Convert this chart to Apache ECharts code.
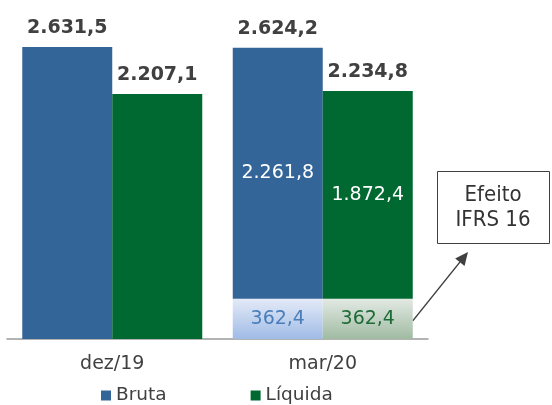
<!DOCTYPE html>
<html>
<head>
<meta charset="utf-8">
<script src="https://cdn.jsdelivr.net/npm/echarts@6/dist/echarts.min.js"></script>
<style>
html,body{margin:0;padding:0;background:#fff;}
#c{width:552px;height:405px;}
</style>
</head>
<body>
<div id="c"></div>
<script>
// ---- data ----
const categories = ['dez/19', 'mar/20'];
const brutaTotal = [2631.5, 2624.2];
const liquidaTotal = [2207.1, 2234.8];
const brutaSegment = [2631.5, 2261.8];     // excl. IFRS 16 effect where split
const liquidaSegment = [2207.1, 1872.4];
const ifrs16Bruta = [null, 362.4];
const ifrs16Liquida = [null, 362.4];
const annotationText = ['Efeito', 'IFRS 16'];

function fmt(v) {
  const parts = v.toFixed(1).split('.');
  const intPart = parts[0].replace(/\B(?=(\d{3})+(?!\d))/g, '.');
  return intPart + ',' + parts[1];
}

const FONT = '"DejaVu Sans", Verdana, sans-serif';
const BLUE = '#346598';
const GREEN = '#006931';
const BAR_W = 90;

const chart = echarts.init(document.getElementById('c'), null, {renderer: 'canvas'});

const totalLabel = (arr) => ({
  show: true, position: 'top', distance: 9,
  fontFamily: FONT, fontSize: 19, fontWeight: 'bold', color: '#404040',
  formatter: (p) => fmt(arr[p.dataIndex])
});

const option = {
  animation: false,
  grid: {left: 7, right: 124, top: 6, bottom: 66},
  legend: {
    data: ['Bruta', 'Líquida'],
    left: 96, top: 381,
    icon: 'rect', itemWidth: 10, itemHeight: 10, itemGap: 84,
    textStyle: {fontFamily: FONT, fontSize: 18.5, color: '#404040'}
  },
  xAxis: {
    type: 'category', data: categories,
    axisTick: {show: false},
    axisLine: {lineStyle: {color: '#9a9a9a', width: 1.5}},
    axisLabel: {fontFamily: FONT, fontSize: 19, color: '#404040', margin: 16}
  },
  yAxis: {type: 'value', min: 0, max: 3000, show: false, splitLine: {show: false}},
  series: [
    {
      name: 'IFRS Bruta', type: 'bar', stack: 'B', barWidth: BAR_W, barGap: '0%',
      data: ifrs16Bruta,
      itemStyle: {color: new echarts.graphic.LinearGradient(0, 0, 0, 1, [
        {offset: 0, color: '#E3EAF7'}, {offset: 1, color: '#A0BBE6'}])},
      label: {show: true, position: 'inside', fontFamily: FONT, fontSize: 19, color: '#4A7EBB',
        formatter: (p) => fmt(p.value)}
    },
    {
      name: 'Bruta', type: 'bar', stack: 'B', barWidth: BAR_W, barGap: '0%',
      data: brutaSegment,
      itemStyle: {color: BLUE},
      label: {show: true, position: 'inside', fontFamily: FONT, fontSize: 19, color: '#ffffff',
        formatter: (p) => (ifrs16Bruta[p.dataIndex] ? fmt(p.value) : '')}
    },
    {
      name: 'Total Bruta', type: 'bar', stack: 'B', barWidth: BAR_W, barGap: '0%',
      data: [0, 0], itemStyle: {color: 'rgba(0,0,0,0)'},
      label: totalLabel(brutaTotal)
    },
    {
      name: 'IFRS Líquida', type: 'bar', stack: 'L', barWidth: BAR_W, barGap: '0%',
      data: ifrs16Liquida,
      itemStyle: {color: new echarts.graphic.LinearGradient(0, 0, 0, 1, [
        {offset: 0, color: '#E2E9E3'}, {offset: 1, color: '#A0BBA2'}])},
      label: {show: true, position: 'inside', fontFamily: FONT, fontSize: 19, color: '#1E6B38',
        formatter: (p) => fmt(p.value)}
    },
    {
      name: 'Líquida', type: 'bar', stack: 'L', barWidth: BAR_W, barGap: '0%',
      data: liquidaSegment,
      itemStyle: {color: GREEN},
      label: {show: true, position: 'inside', fontFamily: FONT, fontSize: 19, color: '#ffffff',
        formatter: (p) => (ifrs16Liquida[p.dataIndex] ? fmt(p.value) : '')}
    },
    {
      name: 'Total Líquida', type: 'bar', stack: 'L', barWidth: BAR_W, barGap: '0%',
      data: [0, 0], itemStyle: {color: 'rgba(0,0,0,0)'},
      label: totalLabel(liquidaTotal)
    }
  ]
};
chart.setOption(option);

// annotation box + arrow anchored to the IFRS 16 Líquida segment of mar/20
const idx = 1;
const p = chart.convertToPixel({xAxisIndex: 0, yAxisIndex: 0}, [categories[idx], ifrs16Liquida[idx] * 0.45]);
const startX = p[0] + BAR_W;
const startY = p[1];
const tipX = 468, tipY = 252;
const ang = Math.atan2(tipY - startY, tipX - startX);
const hl = 13, hw = 6;
const bx = tipX - hl * Math.cos(ang), by = tipY - hl * Math.sin(ang);
const nx = -Math.sin(ang), ny = Math.cos(ang);

chart.setOption({
  graphic: [
    {type: 'rect', shape: {x: 437.5, y: 171.5, width: 112, height: 72},
      style: {fill: '#fff', stroke: '#404040', lineWidth: 1}},
    {type: 'text', x: 493, y: 208,
      style: {text: annotationText.join('\n'), align: 'center', verticalAlign: 'middle',
        font: '22px "DejaVu Sans Condensed", "Liberation Sans", sans-serif', lineHeight: 25, fill: '#333333'}},
    {type: 'line', shape: {x1: startX, y1: startY, x2: bx, y2: by},
      style: {stroke: '#404040', lineWidth: 1.5}},
    {type: 'polygon', shape: {points: [[tipX, tipY], [bx + nx * hw, by + ny * hw], [bx - nx * hw, by - ny * hw]]},
      style: {fill: '#404040'}}
  ]
});
</script>
</body>
</html>
